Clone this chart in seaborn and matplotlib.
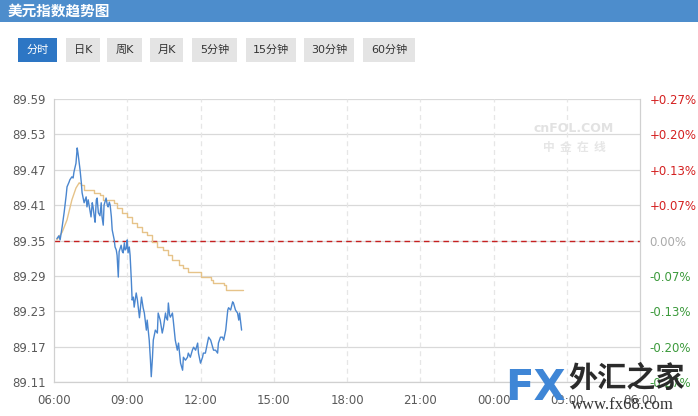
import matplotlib
matplotlib.use("Agg")
import matplotlib.pyplot as plt
from matplotlib.patches import Rectangle
import seaborn as sns
import pandas as pd

# previous close and axis ticks
prev_close = 89.35
price_ticks = [89.11, 89.17, 89.23, 89.29, 89.35, 89.41, 89.47, 89.53, 89.59]
hour_ticks = [6, 9, 12, 15, 18, 21, 24, 27, 30]
hour_labels = ["06:00", "09:00", "12:00", "15:00", "18:00", "21:00", "00:00", "03:00", "06:00"]

# minute price (minutes after 06:00)
price_min = [7, 12, 15, 20, 25, 30, 32, 37, 39, 44, 47, 49, 54, 57, 59, 62, 64, 67, 69, 74,
             79, 81, 84, 89, 91, 94, 96, 99, 101, 104, 106, 109, 113, 116, 118, 121, 123, 128, 131, 133,
             136, 138, 141, 143, 148, 150, 153, 155, 158, 160, 165, 168, 170, 173, 175, 178, 180, 182, 185, 187,
             190, 192, 195, 197, 202, 205, 207, 210, 215, 219, 222, 227, 229, 234, 237, 239, 242, 244, 249, 254,
             256, 261, 266, 269, 274, 276, 279, 281, 284, 286, 291, 293, 298, 303, 306, 311, 316, 318, 323, 328,
             330, 335, 340, 343, 348, 353, 355, 360, 365, 367, 372, 377, 380, 385, 390, 392, 397, 402, 404, 409,
             414, 417, 422, 427, 429, 434, 439, 441, 446, 451, 454, 456, 461]
price = [89.353, 89.358, 89.351, 89.373, 89.398, 89.427, 89.441, 89.449, 89.453, 89.458, 89.456, 89.466, 89.481, 89.507, 89.498, 89.481, 89.470, 89.449, 89.431, 89.414,
         89.424, 89.407, 89.419, 89.398, 89.390, 89.414, 89.407, 89.390, 89.381, 89.419, 89.422, 89.397, 89.392, 89.414, 89.390, 89.376, 89.410, 89.422, 89.410, 89.407,
         89.415, 89.410, 89.390, 89.368, 89.351, 89.339, 89.334, 89.325, 89.288, 89.331, 89.342, 89.331, 89.329, 89.346, 89.334, 89.337, 89.351, 89.329, 89.339, 89.325,
         89.283, 89.249, 89.254, 89.237, 89.261, 89.249, 89.237, 89.219, 89.254, 89.236, 89.227, 89.198, 89.215, 89.181, 89.147, 89.119, 89.152, 89.181, 89.198, 89.193,
         89.227, 89.215, 89.193, 89.203, 89.227, 89.219, 89.215, 89.244, 89.224, 89.220, 89.227, 89.215, 89.181, 89.164, 89.176, 89.142, 89.130, 89.152, 89.147, 89.152,
         89.159, 89.152, 89.164, 89.169, 89.164, 89.176, 89.159, 89.142, 89.152, 89.159, 89.159, 89.176, 89.186, 89.181, 89.169, 89.164, 89.164, 89.159, 89.176, 89.186,
         89.186, 89.181, 89.198, 89.232, 89.236, 89.232, 89.246, 89.244, 89.232, 89.227, 89.215, 89.227, 89.198]

# average price line: smooth rise, then stepping down
rise_min = [7, 20, 32, 44, 54, 62]
rise_price = [89.351, 89.364, 89.385, 89.419, 89.439, 89.448]
avg_min = [62, 67, 74, 94, 99, 113, 121, 148, 155, 168, 180, 192, 205, 217, 229,
           242, 254, 269, 279, 291, 306, 318, 330, 360, 385, 390, 417, 422, 464]
avg_price = [89.448, 89.444, 89.436, 89.436, 89.431, 89.427, 89.419, 89.414, 89.405, 89.397, 89.390, 89.380, 89.373, 89.364, 89.359,
             89.347, 89.339, 89.334, 89.325, 89.317, 89.308, 89.303, 89.297, 89.288, 89.283, 89.278, 89.275, 89.266, 89.266]

buttons = ["分时", "日K", "周K", "月K", "5分钟", "15分钟", "30分钟", "60分钟"]
button_x = [18, 66, 107, 150, 192, 246, 304, 363]
button_w = [39, 34, 35, 33, 45, 50, 50, 52]

sns.set_style("white")
plt.rcParams["font.family"] = ["DejaVu Sans", "Noto Sans CJK SC"]

W, H = 698, 416
fig = plt.figure(figsize=(W / 100, H / 100), dpi=100)

def fx(px):
    return px / W

def fy(py):
    return 1 - py / H

# header band
fig.patches.append(Rectangle((0, fy(22)), 1, 22 / H, transform=fig.transFigure,
                             facecolor="#4d8dcc", edgecolor="none", zorder=0))
fig.text(fx(8), fy(11), "美元指数趋势图", color="white", fontsize=10.5, fontweight="bold",
         va="center", ha="left", family=["Noto Sans CJK SC"])

for lab, bx, bw in zip(buttons, button_x, button_w):
    sel = lab == "分时"
    fig.patches.append(Rectangle((fx(bx), fy(62)), bw / W, 24 / H, transform=fig.transFigure,
                                 facecolor="#2d76c4" if sel else "#e4e4e4", edgecolor="none"))
    fig.text(fx(bx + bw / 2), fy(50), lab, color="white" if sel else "#333333", fontsize=8,
             ha="center", va="center")

ax = fig.add_axes([fx(54), fy(382), fx(640 - 54), (382 - 99) / H])

df = pd.DataFrame({"hour": [6 + m / 60 for m in price_min], "price": price})
df_rise = pd.DataFrame({"hour": [6 + m / 60 for m in rise_min], "price": rise_price})
df_avg = pd.DataFrame({"hour": [6 + m / 60 for m in avg_min], "price": avg_price})

ax.axhline(prev_close, color="#c62020", lw=1, ls=(0, (4, 3)), zorder=2)
sns.lineplot(data=df_rise, x="hour", y="price", ax=ax, color="#e6c389", lw=1,
             estimator=None, zorder=3)
sns.lineplot(data=df_avg, x="hour", y="price", ax=ax, color="#e6c389", lw=1,
             drawstyle="steps-post", estimator=None, zorder=3)
sns.lineplot(data=df, x="hour", y="price", ax=ax, color="#4a86cf", lw=1.0,
             estimator=None, zorder=4)

ax.set_xlim(6, 30)
ax.set_ylim(89.11, 89.59)
ax.set_xticks(hour_ticks)
ax.set_xticklabels(hour_labels)
ax.set_yticks(price_ticks)
ax.set_yticklabels([f"{v:.2f}" for v in price_ticks])
ax.set_xlabel("")
ax.set_ylabel("")
ax.tick_params(axis="both", length=0, labelsize=8.5, colors="#5a5a5a")
ax.tick_params(axis="x", pad=9)
ax.tick_params(axis="y", pad=6)

for v in price_ticks:
    ax.axhline(v, color="#d9d9d9", lw=0.9, zorder=1)
for h in hour_ticks[1:-1]:
    ax.axvline(h, color="#e6e6e6", lw=0.9, ls=(0, (4, 3)), zorder=1)

for s in ax.spines.values():
    s.set_color("#d0d0d0")
    s.set_linewidth(0.9)
ax.spines["top"].set_visible(False)

ax2 = ax.twinx()
ax2.set_ylim(ax.get_ylim())
ax2.set_yticks(price_ticks)
pct_labels = []
pct_colors = []
for v in price_ticks:
    p = (v - prev_close) / prev_close * 100
    if abs(p) < 0.005:
        pct_labels.append("0.00%")
        pct_colors.append("#aaaaaa")
    elif p > 0:
        pct_labels.append(f"+{p:.2f}%")
        pct_colors.append("#d42020")
    else:
        pct_labels.append(f"-{abs(p):.2f}%")
        pct_colors.append("#3c9a3c")
ax2.set_yticklabels(pct_labels)
ax2.tick_params(axis="y", length=0, labelsize=8.5, pad=7)
for t, c in zip(ax2.get_yticklabels(), pct_colors):
    t.set_color(c)
for s in ax2.spines.values():
    s.set_visible(False)

# watermarks
fig.text(fx(574), fy(129), "cnFOL.COM", color="#e2e2e2", fontsize=9, fontweight="bold",
         ha="center", va="center")
fig.text(fx(574), fy(148), "中  金  在  线", color="#e6e6e6", fontsize=8.5, fontweight="bold",
         ha="center", va="center", family=["Noto Sans CJK SC"])
fig.text(fx(505), fy(388), "FX", color="#3f86d6", fontsize=30, fontweight="bold",
         ha="left", va="center", zorder=10)
fig.text(fx(568), fy(378), "外汇之家", color="#2b2b2b", fontsize=21, fontweight="bold",
         ha="left", va="center", family=["Noto Sans CJK SC"], zorder=10)
fig.text(fx(571), fy(405), "www.fx68.com", color="#333333", fontsize=12,
         ha="left", va="center", family=["Liberation Serif"], zorder=10)

fig.savefig("out.png", dpi=100)
